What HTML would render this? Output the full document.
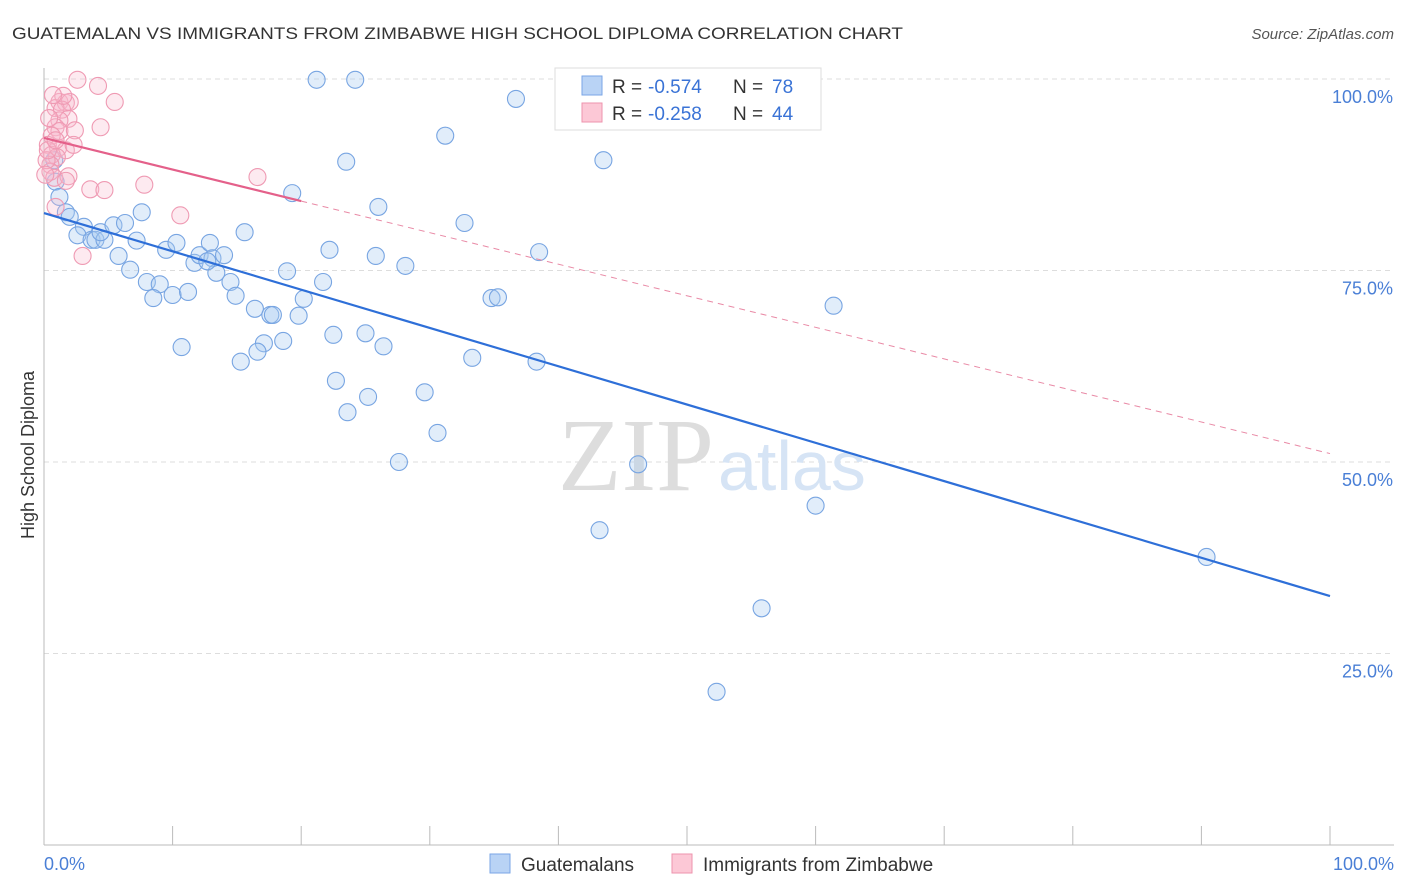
<!DOCTYPE html>
<html><head><meta charset="utf-8"><style>
body{margin:0;background:#fff;font-family:"Liberation Sans",sans-serif}
</style></head><body>
<svg width="1406" height="892" style="display:block">
<text x="12" y="39" font-size="17" fill="#333" textLength="891" lengthAdjust="spacingAndGlyphs">GUATEMALAN VS IMMIGRANTS FROM ZIMBABWE HIGH SCHOOL DIPLOMA CORRELATION CHART</text>
<text x="1394" y="39" font-size="15" fill="#555" text-anchor="end" font-style="italic">Source: ZipAtlas.com</text>
<g id="grid"></g>
<text x="714" y="490" font-size="104" fill="#ddd" text-anchor="end" font-family="Liberation Serif,serif">ZIP</text>
<text x="718" y="490" font-size="70" fill="#d6e4f5">atlas</text>
<line x1="44" y1="68" x2="44" y2="845" stroke="#bbb"/>
<line x1="44" y1="845" x2="1394" y2="845" stroke="#bbb"/>
<text transform="translate(34,455) rotate(-90)" font-size="18" fill="#333" text-anchor="middle">High School Diploma</text>
<text x="44" y="870" font-size="18" fill="#4a7fd6">0.0%</text>
<text x="1394" y="870" font-size="18" fill="#4a7fd6" text-anchor="end">100.0%</text>
<g id="pts"></g>
<g id="lines"></g>
<g>
<rect x="555" y="68" width="266" height="62" fill="#fff" stroke="#ddd"/>
<rect x="582" y="76" width="20" height="19" fill="#b9d3f5" stroke="#7aa6e6"/>
<rect x="582" y="103" width="20" height="19" fill="#fcc8d6" stroke="#ee93ad"/>
<text x="612" y="93" font-size="19" fill="#333">R =</text><text x="648" y="93" font-size="19" fill="#3a73d6">-0.574</text>
<text x="733" y="93" font-size="19" fill="#333">N =</text><text x="772" y="93" font-size="19" fill="#3a73d6">78</text>
<text x="612" y="120" font-size="19" fill="#333">R =</text><text x="648" y="120" font-size="19" fill="#3a73d6">-0.258</text>
<text x="733" y="120" font-size="19" fill="#333">N =</text><text x="772" y="120" font-size="19" fill="#3a73d6">44</text>
</g>
<g>
<rect x="490" y="854" width="20" height="19" fill="#b9d3f5" stroke="#7aa6e6"/>
<text x="521" y="871" font-size="19" fill="#333">Guatemalans</text>
<rect x="672" y="854" width="20" height="19" fill="#fcc8d6" stroke="#ee93ad"/>
<text x="703" y="871" font-size="19" fill="#333">Immigrants from Zimbabwe</text>
</g>
</svg>
<script>
const yTicks=[25,50,75,100];
const xTicks=[0,10,20,30,40,50,60,70,80,90,100];
const bluePx=[[316,80],[355,80],[516,99],[445,136],[603,160],[346,162],[292,193],[379,207],[142,212],[465,223],[245,232],[539,252],[330,250],[376,256],[406,266],[287,271],[323,282],[491,298],[498,297],[304,299],[833,306],[255,309],[270,315],[273,315],[298,316],[333,335],[365,333],[384,346],[283,341],[264,343],[258,352],[181,347],[241,362],[472,358],[536,362],[336,381],[425,392],[368,397],[348,412],[437,433],[399,462],[638,464],[815,506],[600,530],[762,608],[717,692],[1207,557],[55,182],[60,197],[66,212],[70,217],[84,227],[78,235],[92,240],[96,240],[104,240],[101,232],[113,225],[125,223],[136,241],[118,256],[130,270],[147,282],[160,284],[153,298],[172,295],[166,250],[177,243],[188,292],[194,263],[200,255],[210,243],[212,258],[216,273],[224,255],[230,282],[235,296],[207,261],[54,160]];
const pinkPx=[[78,80],[98,86],[115,102],[60,102],[66,103],[70,102],[55,108],[62,110],[68,119],[59,120],[55,127],[100,127],[60,131],[75,130],[52,136],[48,145],[58,148],[66,150],[73,145],[52,155],[57,157],[50,165],[51,172],[54,178],[68,176],[66,181],[90,189],[104,190],[144,185],[258,177],[180,215],[83,256],[55,207],[47,160],[48,150],[56,140],[63,96],[49,118],[53,95],[45,175]];
const blueX=bluePx.map(p=>+((p[0]-44)/12.86).toFixed(1)), blueY=bluePx.map(p=>+((845-p[1])/7.66).toFixed(1));
const pinkX=pinkPx.map(p=>+((p[0]-44)/12.86).toFixed(1)), pinkY=pinkPx.map(p=>+((845-p[1])/7.66).toFixed(1));
const blueTrend=[82.5,32.5], pinkTrend=[92.3,51.1];
const sx=v=>44+v*12.86, sy=v=>845-v*7.66;
const NS="http://www.w3.org/2000/svg";
function mk(t,a,parent){const e=document.createElementNS(NS,t);for(const k in a)e.setAttribute(k,a[k]);document.getElementById(parent).appendChild(e);return e;}
yTicks.forEach(t=>{
 const l=mk('line',{x1:44,x2:1394,y1:sy(t),y2:sy(t),stroke:'#ddd','stroke-dasharray':'5,4'},'grid');
 
 
 const tx=mk('text',{x:1393,y:sy(t)+24,'font-size':18,fill:'#4a7fd6','text-anchor':'end'},'grid');
 tx.textContent=t.toFixed(1)+'%';
 
 
});
xTicks.forEach(t=>{
 const l=mk('line',{x1:sx(t),x2:sx(t),y1:826,y2:845,stroke:'#bbb'},'grid');
 
 
});
blueX.forEach((x,i)=>{
 const c=mk('circle',{cx:sx(x),cy:sy(blueY[i]),r:8.5,fill:'rgba(170,202,242,0.35)',stroke:'#78a5e2','stroke-width':1.1},'pts');
 
 
});
pinkX.forEach((x,i)=>{
 const c=mk('circle',{cx:sx(x),cy:sy(pinkY[i]),r:8.5,fill:'rgba(248,185,205,0.3)',stroke:'#ef9ab3','stroke-width':1.1},'pts');
 
 
});
const bl=mk('line',{x1:sx(0),y1:sy(blueTrend[0]),x2:sx(100),y2:sy(blueTrend[1]),stroke:'#2e6fd8','stroke-width':2.2},'lines');


const pyAt=x=>pinkTrend[0]+(pinkTrend[1]-pinkTrend[0])*x/100;
const pd=mk('line',{x1:sx(20),y1:sy(pyAt(20)),x2:sx(100),y2:sy(pinkTrend[1]),stroke:'#e98aa6','stroke-width':1,'stroke-dasharray':'6,5'},'lines');


const ps=mk('line',{x1:sx(0),y1:sy(pinkTrend[0]),x2:sx(20),y2:sy(pyAt(20)),stroke:'#e4608a','stroke-width':2.2},'lines');


</script>
</body></html>
